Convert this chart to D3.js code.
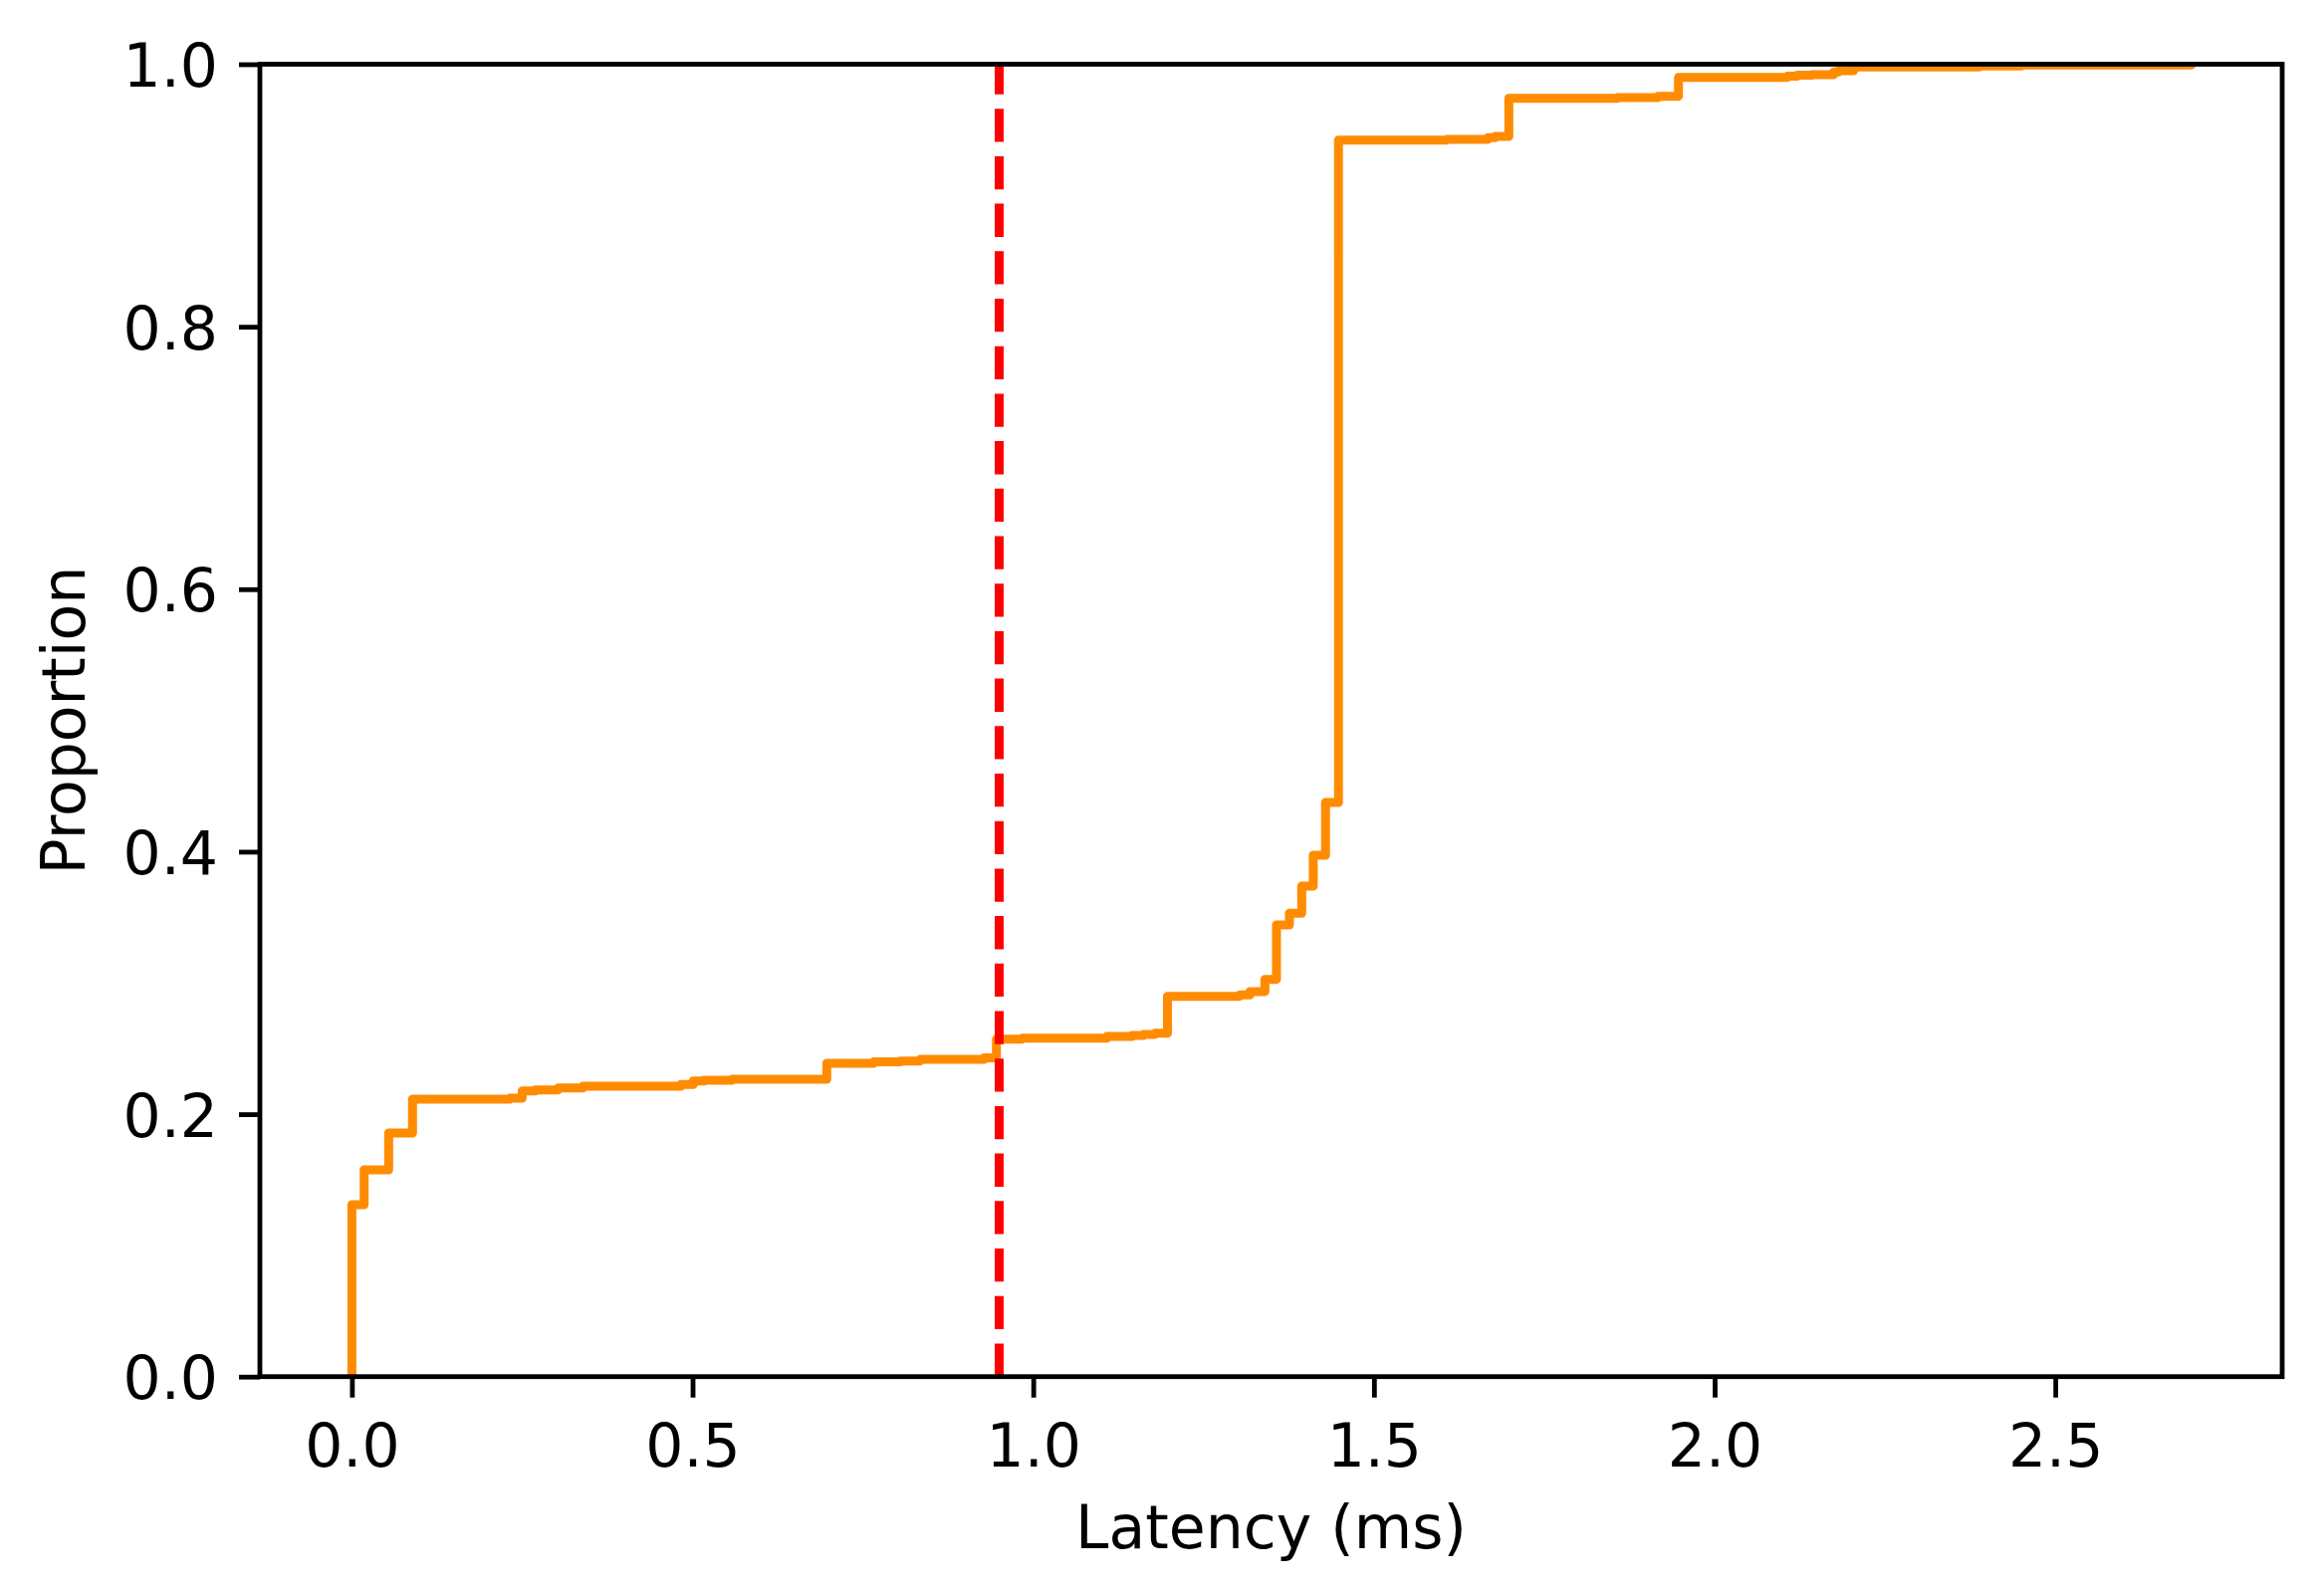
<!DOCTYPE html>
<head>
<meta charset="utf-8">
<style>
body { margin: 0; background: #fff; }
text { font-family: "DejaVu Sans", sans-serif; fill: #000; }
.axis text { font-size: 60px; }
.axis line { stroke: #000; stroke-width: 4.8px; }
.label { font-size: 60px; }
</style>
</head>
<body>
<svg width="2334" height="1598"></svg>
<script src="https://cdn.jsdelivr.net/npm/d3@7"></script>
<script type="text/javascript">

// step positions of the ECDF (ms) and the proportion reached after each step
var latency = [0.000, 0.018, 0.054, 0.089, 0.232, 0.250, 0.269, 0.303, 0.339, 0.483,
  0.501, 0.517, 0.558, 0.697, 0.766, 0.805, 0.834, 0.928, 0.946, 0.984,
  1.108, 1.145, 1.162, 1.179, 1.197, 1.303, 1.318, 1.340, 1.357, 1.376,
  1.394, 1.411, 1.429, 1.448, 1.607, 1.667, 1.678, 1.698, 1.858, 1.917,
  1.947, 2.107, 2.121, 2.143, 2.175, 2.182, 2.204, 2.389, 2.450, 2.700];
var proportion = [0.1310, 0.1576, 0.1856, 0.2114, 0.2122, 0.2177, 0.2185, 0.2200, 0.2213, 0.2226,
  0.2253, 0.2258, 0.2266, 0.2387, 0.2398, 0.2405, 0.2417, 0.2430, 0.2572, 0.2579,
  0.2592, 0.2600, 0.2608, 0.2617, 0.2898, 0.2908, 0.2934, 0.3027, 0.3442, 0.3531,
  0.3738, 0.3973, 0.4375, 0.9422, 0.9427, 0.9440, 0.9450, 0.9741, 0.9746, 0.9756,
  0.9900, 0.9909, 0.9916, 0.9921, 0.9941, 0.9950, 0.9980, 0.9987, 0.9995, 1.0000];

var threshold = 0.95;
var xTicks = [0, 0.5, 1.0, 1.5, 2.0, 2.5];
var yTicks = [0, 0.2, 0.4, 0.6, 0.8, 1.0];

var svg = d3.select("svg");
var plotL = 261, plotT = 64.5, plotR = 2292, plotB = 1382.7;

var x = d3.scaleLinear().domain([-0.135, 2.833]).range([plotL, plotR]);
var y = d3.scaleLinear().domain([0, 1]).range([plotB, plotT]);

svg.append("defs").append("clipPath").attr("id", "plotclip")
  .append("rect")
  .attr("x", plotL).attr("y", plotT)
  .attr("width", plotR - plotL).attr("height", plotB - plotT);

// ecdf starts at zero on the first value
var pts = [[latency[0], 0]];
latency.forEach(function(d, i) { pts.push([d, proportion[i]]); });

var line = d3.line()
  .x(function(d) { return x(d[0]); })
  .y(function(d) { return y(d[1]); })
  .curve(d3.curveStepAfter);

var plot = svg.append("g").attr("clip-path", "url(#plotclip)");

plot.append("path")
  .datum(pts)
  .attr("d", line)
  .attr("fill", "none")
  .attr("stroke", "#ff8c00")
  .attr("stroke-width", 9)
  .attr("stroke-linejoin", "round")
  .attr("stroke-linecap", "square");

// dashed threshold line, drawn bottom to top so the dash starts at the axis
plot.append("line")
  .attr("x1", x(threshold)).attr("x2", x(threshold))
  .attr("y1", y(0)).attr("y2", y(1))
  .attr("stroke", "#ff0000")
  .attr("stroke-width", 9)
  .attr("stroke-dasharray", "33.3,14.4");

// axes
var xAxis = svg.append("g")
  .attr("class", "axis")
  .attr("transform", "translate(0," + plotB + ")")
  .call(d3.axisBottom(x).tickValues(xTicks).tickSize(21).tickPadding(26.4)
    .tickFormat(d3.format(".1f")));
xAxis.select(".domain").remove();

var yAxis = svg.append("g")
  .attr("class", "axis")
  .attr("transform", "translate(" + plotL + ",0)")
  .call(d3.axisLeft(y).tickValues(yTicks).tickSize(21).tickPadding(21)
    .tickFormat(d3.format(".1f")));
yAxis.select(".domain").remove();
yAxis.selectAll("text").attr("dy", "0.37em");

svg.selectAll(".axis").attr("font-family", null).attr("font-size", null);

// frame
svg.append("rect")
  .attr("x", plotL).attr("y", plotT)
  .attr("width", plotR - plotL).attr("height", plotB - plotT)
  .attr("fill", "none")
  .attr("stroke", "#000")
  .attr("stroke-width", 4.8)
  .attr("stroke-linejoin", "miter");

svg.append("text")
  .attr("class", "label")
  .attr("x", (plotL + plotR) / 2)
  .attr("y", 1555)
  .attr("text-anchor", "middle")
  .text("Latency (ms)");

svg.append("text")
  .attr("class", "label")
  .attr("transform", "translate(85," + ((plotT + plotB) / 2) + ") rotate(-90)")
  .attr("text-anchor", "middle")
  .text("Proportion");

</script>
</body>
